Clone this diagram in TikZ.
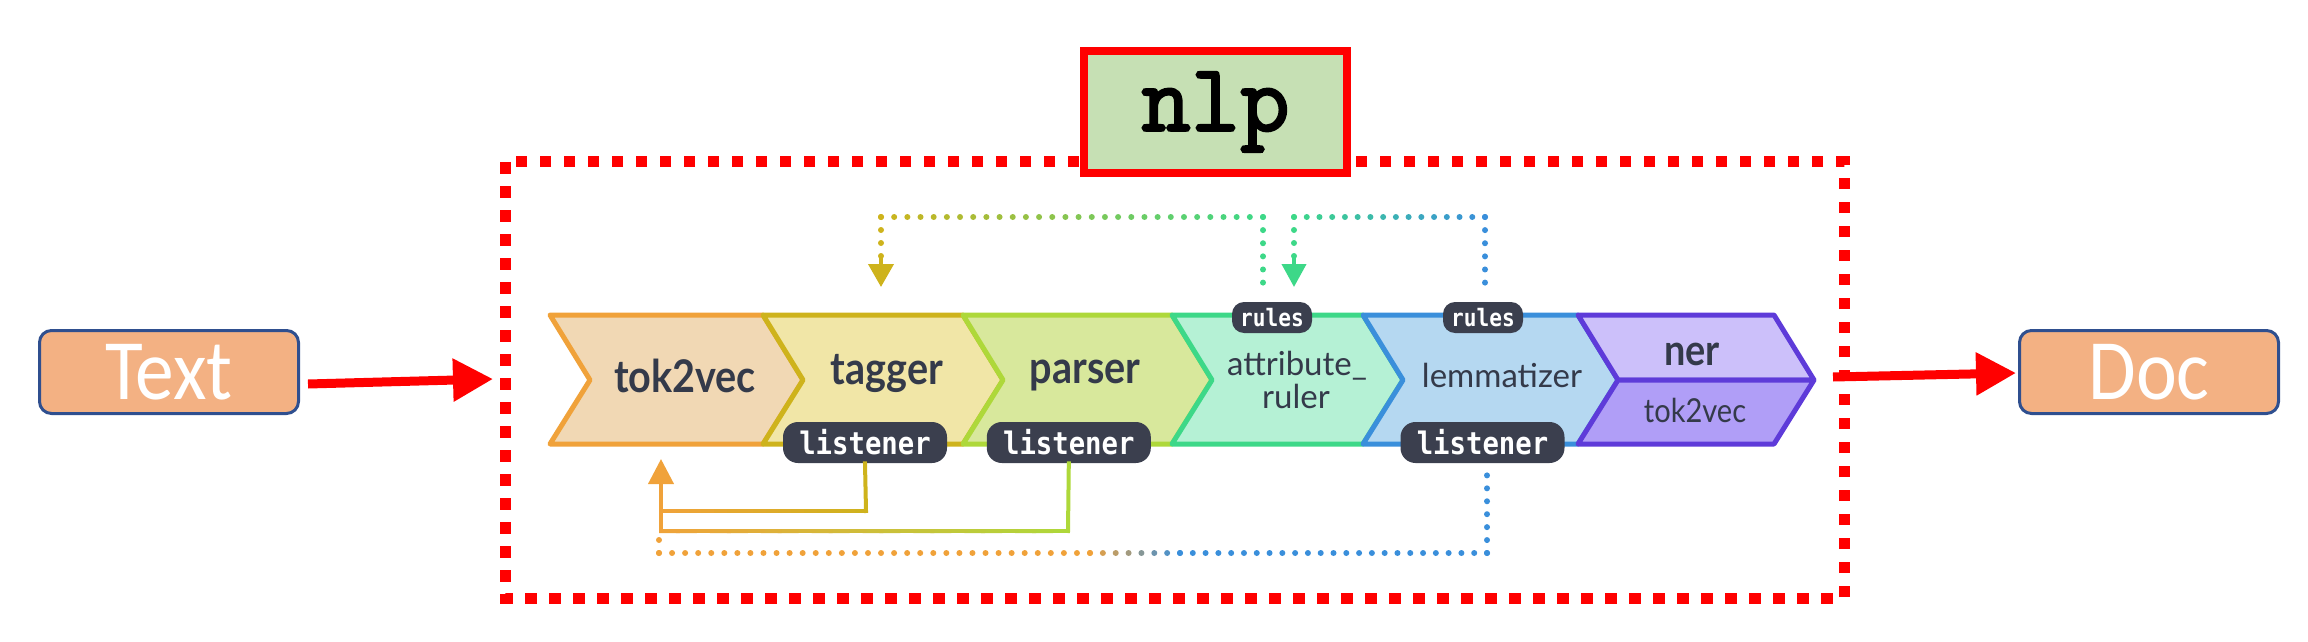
\documentclass[tikz,border=0pt]{standalone}
\usepackage{fontspec}
\setmainfont{Lato}
\newfontfamily\stagefont[FakeStretch=0.88]{Lato}
\newfontfamily\boxfont[FakeStretch=0.9]{Carlito}
\newfontfamily\badgefont[FakeStretch=0.88]{DejaVu Sans Mono}
\newfontfamily\namefont[FakeBold=2.5]{Latin Modern Mono}
\usetikzlibrary{arrows.meta, calc, positioning}

\definecolor{tokD}{HTML}{F0A23A}\definecolor{tokF}{HTML}{F1D8B4}
\definecolor{tagD}{HTML}{CEB31C}\definecolor{tagF}{HTML}{F1E6A7}
\definecolor{parD}{HTML}{AED83A}\definecolor{parF}{HTML}{D8E89C}
\definecolor{attD}{HTML}{3DD888}\definecolor{attF}{HTML}{B5F1D5}
\definecolor{lemD}{HTML}{3A8FDB}\definecolor{lemF}{HTML}{B5D8F1}
\definecolor{nerD}{HTML}{5E3BD9}\definecolor{nerF}{HTML}{CCC0FA}\definecolor{nerG}{HTML}{B09EF7}
\definecolor{ink}{HTML}{343A4A}
\definecolor{badgec}{HTML}{3B3F4E}
\definecolor{boxF}{HTML}{F3B183}\definecolor{boxD}{HTML}{2F4F8F}
\definecolor{nlpF}{HTML}{C6E0B4}

\newcommand\stagebold{\stagefont\bfseries\fontsize{22.5}{26}\selectfont}
\newcommand\stagereg{\fontsize{16.5}{20}\selectfont}

% dotted run from #1 to #2 in #3 steps, colour #4 to #5
\newcommand\dotrun[5]{%
  \foreach \i in {0,...,#3}{%
    \pgfmathsetmacro\runfr{\i/#3}%
    \pgfmathtruncatemacro\runmix{100*\i/#3}%
    \fill[#5!\runmix!#4] ($(#1)!\runfr!(#2)$) circle (3);
  }}
% solid run from #1 to #2 in #3 pieces, colour #4 to #5
\newcommand\solidrun[5]{%
  \foreach \i in {1,...,#3}{%
    \pgfmathsetmacro\runfa{(\i-1)/#3}%
    \pgfmathsetmacro\runfb{\i/#3}%
    \pgfmathtruncatemacro\runmix{100*(\i-0.5)/#3}%
    \draw[link, #5!\runmix!#4] ($(#1)!\runfa!(#2)$) -- ($(#1)!\runfb!(#2)$);
  }}

\tikzset{
  stage/.style={line width=2.5pt, line join=round},
  lbl/.style={text=ink, inner sep=0pt, anchor=base},
  lsn/.style={fill=badgec, text=white, inner sep=0pt, rounded corners=7.5pt,
    minimum width=82pt, minimum height=20.5pt, font=\badgefont\bfseries\fontsize{15.5}{17}\selectfont},
  rules/.style={fill=badgec, text=white, inner sep=0pt, rounded corners=6pt,
    minimum width=40pt, minimum height=15.5pt, font=\badgefont\bfseries\fontsize{12}{14}\selectfont},
  endbox/.style={draw=boxD, line width=1.5pt, fill=boxF, rounded corners=6pt, inner sep=0pt,
    minimum width=129.5pt, minimum height=41.5pt, text=white, font=\boxfont\fontsize{43}{50}\selectfont},
  namebox/.style={draw=red, line width=4pt, fill=nlpF, inner sep=0pt,
    minimum width=131.5pt, minimum height=61pt, font=\namefont\fontsize{48}{52}\selectfont},
  frame/.style={draw=red, line width=5.5pt, dash pattern=on 5.75pt off 6.25pt},
  feed/.style={draw=red, line width=4.5pt, -{Triangle[length=20pt,width=20.5pt]}},
  link/.style={line width=2pt, line cap=rect},
}

\begin{document}
\begin{tikzpicture}[x=0.5pt, y=-0.5pt, node distance=19.5pt]
    \useasboundingbox (0,0) rectangle (2308,642);

    % frame round the pipeline
    \draw[frame] (505,162) rectangle (1844,598);
    \node[namebox] (nlp) at (1215.5,112) {nlp};

    \node[endbox] (txt) at (169,372) {Text};
    \node[endbox] (doc) at (2149,372) {Doc};

    % stages
    \foreach \xa/\xb/\c in {550/763/tok, 763/963/tag, 963/1172/par, 1172/1363/att, 1363/1578/lem}
        \filldraw[stage, fill=\c F, draw=\c D] (\xa,315) -- (\xb,315) -- (\xb+40,380) -- (\xb,444) -- (\xa,444) -- (\xa+40,380) -- cycle;
    \filldraw[stage, fill=nerF, draw=nerD] (1578,315) -- (1774,315) -- (1814,380) -- (1618,380) -- cycle;
    \filldraw[stage, fill=nerG, draw=nerD] (1618,380) -- (1814,380) -- (1774,444) -- (1578,444) -- cycle;

    \node[lbl, font=\stagebold] (tok2vec) at (685,392) {tok2vec};
    \node[lbl, font=\stagebold] (tagger)  at (887,384) {tagger};
    \node[lbl, font=\stagebold] (parser)  at (1085,383) {parser};
    \node[lbl, font=\stagereg]  (attr)    at (1297,375) {attribute\_};
    \node[lbl, font=\stagereg]  (attr-2)  at (1296,408) {ruler};
    \node[lbl, font=\stagereg]  (lemma)   at (1502,387) {lemmatizer};
    \node[lbl, font=\stagefont\bfseries\fontsize{21.5}{25}\selectfont] (ner) at (1692,365) {ner};
    \node[lbl, font=\stagefont\fontsize{16.5}{19}\selectfont] (ner-tok) at (1695,422) {tok2vec};

    \node[lsn] (tagLsn) at (865,442.5) {listener};
    \node[lsn, right=of tagLsn] (parLsn) {listener};
    \node[lsn] (lemLsn) at (1482.5,442.5) {listener};
    \node[rules] (attRules) at (1272,317.5) {rules};
    \node[rules] (lemRules) at (1483,317.5) {rules};

    % rules links
    \coordinate (ar-up)  at ($(attRules.north)+(-9,-19)$);
    \coordinate (ar-top) at (1263,217);
    \coordinate (tg-top) at (881,217);
    \coordinate (tg-low) at (881,256);
    \coordinate (tagIn)  at (881,287);
    \dotrun{ar-up}{ar-top}{5}{attD}{attD}
    \dotrun{ar-top}{tg-top}{29}{attD}{tagD}
    \dotrun{tg-top}{tg-low}{3}{tagD}{tagD}
    \draw[link, tagD, -{Triangle[length=11.5pt,width=12.5pt]}] (tg-low) -- (tagIn);

    \coordinate (lr-up)  at ($(lemRules.north)+(2,-19)$);
    \coordinate (lr-top) at (1485,217);
    \coordinate (at-top) at (1294,217);
    \coordinate (at-low) at (1294,256);
    \coordinate (attIn)  at (1294,287);
    \dotrun{lr-up}{lr-top}{5}{lemD}{lemD}
    \dotrun{lr-top}{at-top}{15}{lemD}{attD}
    \dotrun{at-top}{at-low}{3}{attD}{attD}
    \draw[link, attD, -{Triangle[length=11.5pt,width=12pt]}] (at-low) -- (attIn);

    % listener links
    \coordinate (tl-bot) at (866,511);
    \coordinate (tk-a)   at (661,511);
    \coordinate (pl-bot) at (1068,531);
    \coordinate (tk-b)   at (661,531);
    \coordinate (tokIn)  at (661,459);
    \solidrun{tagLsn.south}{tl-bot}{1}{tagD}{tagD}
    \solidrun{tl-bot}{tk-a}{16}{tagD}{tokD}
    \solidrun{parLsn.south}{pl-bot}{1}{parD}{parD}
    \solidrun{pl-bot}{tk-b}{24}{parD}{tokD}
    \draw[link, tokD, -{Triangle[length=12.5pt,width=12.5pt]}] (tk-b) -- (tokIn);

    \coordinate (ll-up)  at ($(lemLsn.south)+(4.5,12)$);
    \coordinate (ll-bot) at (1487,553);
    \coordinate (ll-b)   at (1180,553);
    \coordinate (ll-c)   at (1090,553);
    \coordinate (tk-c)   at (659,553);
    \coordinate (tk-d)   at (659,540);
    \dotrun{ll-up}{ll-bot}{6}{lemD}{lemD}
    \dotrun{ll-bot}{ll-b}{24}{lemD}{lemD}
    \dotrun{ll-b}{ll-c}{7}{lemD}{tokD}
    \dotrun{ll-c}{tk-c}{33}{tokD}{tokD}
    \dotrun{tk-c}{tk-d}{1}{tokD}{tokD}

    % in and out
    \coordinate (inlet)  at (493,379);
    \coordinate (outlet) at (1833,377);
    \draw[feed] ($(txt.east)+(8,12)$) -- (inlet);
    \draw[feed] (outlet) -- ($(doc.west)+(-2,1)$);
\end{tikzpicture}
\end{document}
